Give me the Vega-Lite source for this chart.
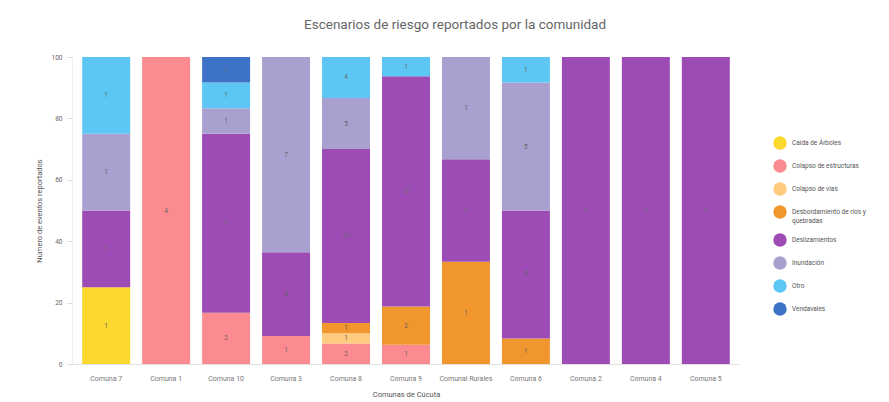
{
  "$schema": "https://vega.github.io/schema/vega-lite/v6.json",
  "width": 668,
  "height": 307,
  "autosize": "none",
  "padding": {"left": 72, "top": 57, "right": 149, "bottom": 38},
  "background": "white",
  "title": {
    "text": "Escenarios de riesgo reportados por la comunidad",
    "fontSize": 13.5,
    "font": "Roboto",
    "fontWeight": "normal",
    "color": "#666666",
    "offset": 23,
    "dx": 49
  },
  "config": {
    "view": {"stroke": null},
    "font": "Roboto"
  },
  "data": {
    "values": [
      {"comuna": "Comuna 7", "tipo": "Caída de Árboles", "n": 1},
      {"comuna": "Comuna 7", "tipo": "Deslizamientos", "n": 1},
      {"comuna": "Comuna 7", "tipo": "Inundación", "n": 1},
      {"comuna": "Comuna 7", "tipo": "Otro", "n": 1},
      {"comuna": "Comuna 1", "tipo": "Colapso de estructuras", "n": 4},
      {"comuna": "Comuna 10", "tipo": "Colapso de estructuras", "n": 2},
      {"comuna": "Comuna 10", "tipo": "Deslizamientos", "n": 7},
      {"comuna": "Comuna 10", "tipo": "Inundación", "n": 1},
      {"comuna": "Comuna 10", "tipo": "Otro", "n": 1},
      {"comuna": "Comuna 10", "tipo": "Vendavales", "n": 1},
      {"comuna": "Comuna 3", "tipo": "Colapso de estructuras", "n": 1},
      {"comuna": "Comuna 3", "tipo": "Deslizamientos", "n": 3},
      {"comuna": "Comuna 3", "tipo": "Inundación", "n": 7},
      {"comuna": "Comuna 8", "tipo": "Colapso de estructuras", "n": 2},
      {"comuna": "Comuna 8", "tipo": "Colapso de vías", "n": 1},
      {"comuna": "Comuna 8", "tipo": "Desbordamiento de ríos y quebradas", "n": 1},
      {"comuna": "Comuna 8", "tipo": "Deslizamientos", "n": 17},
      {"comuna": "Comuna 8", "tipo": "Inundación", "n": 5},
      {"comuna": "Comuna 8", "tipo": "Otro", "n": 4},
      {"comuna": "Comuna 9", "tipo": "Colapso de estructuras", "n": 1},
      {"comuna": "Comuna 9", "tipo": "Desbordamiento de ríos y quebradas", "n": 2},
      {"comuna": "Comuna 9", "tipo": "Deslizamientos", "n": 12},
      {"comuna": "Comuna 9", "tipo": "Otro", "n": 1},
      {"comuna": "Comunal Rurales", "tipo": "Desbordamiento de ríos y quebradas", "n": 1},
      {"comuna": "Comunal Rurales", "tipo": "Deslizamientos", "n": 1},
      {"comuna": "Comunal Rurales", "tipo": "Inundación", "n": 1},
      {"comuna": "Comuna 6", "tipo": "Desbordamiento de ríos y quebradas", "n": 1},
      {"comuna": "Comuna 6", "tipo": "Deslizamientos", "n": 5},
      {"comuna": "Comuna 6", "tipo": "Inundación", "n": 5},
      {"comuna": "Comuna 6", "tipo": "Otro", "n": 1},
      {"comuna": "Comuna 2", "tipo": "Deslizamientos", "n": 1},
      {"comuna": "Comuna 4", "tipo": "Deslizamientos", "n": 1},
      {"comuna": "Comuna 5", "tipo": "Deslizamientos", "n": 1}
    ]
  },
  "transform": [
    {"stack": "n", "groupby": ["comuna"], "sort": [{"field": "tipo", "order": "ascending"}], "offset": "normalize", "as": ["y0", "y1"]},
    {"calculate": "(datum.y0 + datum.y1) / 2", "as": "ymid"}
  ],
  "encoding": {
    "x": {
      "field": "comuna",
      "type": "nominal",
      "sort": ["Comuna 7", "Comuna 1", "Comuna 10", "Comuna 3", "Comuna 8", "Comuna 9", "Comunal Rurales", "Comuna 6", "Comuna 2", "Comuna 4", "Comuna 5"],
      "scale": {"paddingInner": 0.2, "paddingOuter": 0.17},
      "axis": {
        "title": "Comunas de Cúcuta",
        "labelAngle": 0,
        "labelFontSize": 7,
        "labelColor": "#777777",
        "titleFontSize": 7.5,
        "titleFontWeight": "normal",
        "titleColor": "#555555",
        "titlePadding": 9,
        "labelPadding": 10,
        "domainColor": "#e3e3e3",
        "ticks": false
      }
    }
  },
  "layer": [
    {
      "mark": {"type": "bar"},
      "encoding": {
        "y": {
          "field": "y0",
          "type": "quantitative",
          "scale": {"domain": [0, 1]},
          "axis": {
            "title": "Número de eventos reportados",
            "values": [0, 0.2, 0.4, 0.6, 0.8, 1],
            "labelExpr": "format(datum.value * 100, 'd')",
            "labelFontSize": 6.5,
            "labelColor": "#666666",
            "titleFontSize": 7.5,
            "titleFontWeight": "normal",
            "titleColor": "#555555",
            "titlePadding": 8,
            "grid": false,
            "domainColor": "#eeeeee",
            "tickColor": "#dddddd",
            "tickSize": 5,
            "labelPadding": 5
          }
        },
        "y2": {"field": "y1"},
        "color": {
          "field": "tipo",
          "type": "nominal",
          "scale": {
            "domain": ["Caída de Árboles", "Colapso de estructuras", "Colapso de vías", "Desbordamiento de ríos y quebradas", "Deslizamientos", "Inundación", "Otro", "Vendavales"],
            "range": ["#FBD92E", "#FC8B91", "#FFCB7E", "#F1952F", "#9D4CB5", "#AAA0CF", "#5CC7F4", "#3E72C6"]
          },
          "legend": {
            "title": null,
            "orient": "none",
            "legendX": 701,
            "legendY": 79,
            "symbolType": "circle",
            "symbolSize": 180,
            "symbolStrokeWidth": 0,
            "labelFontSize": 6.5,
            "labelColor": "#555555",
            "rowPadding": 9,
            "labelOffset": 5,
            "padding": 0,
            "labelLimit": 120,
            "labelExpr": "datum.label == 'Desbordamiento de ríos y quebradas' ? ['Desbordamiento de ríos y', 'quebradas'] : datum.label"
          }
        }
      }
    },
    {
      "mark": {"type": "text", "fontSize": 6.5, "color": "#666666"},
      "encoding": {
        "y": {"field": "ymid", "type": "quantitative"},
        "text": {"field": "n", "type": "quantitative"}
      }
    }
  ]
}
